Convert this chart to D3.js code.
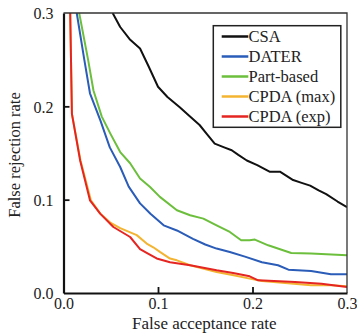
<!DOCTYPE html>
<html>
<head>
<meta charset="utf-8">
<script src="https://cdn.jsdelivr.net/npm/d3@7"></script>
<style>
  body { margin: 0; background: #fff; }
</style>
</head>
<body>
<div class="chart"></div>
<script>
// series names + colours
const names = ["CSA", "DATER", "Part-based", "CPDA (max)", "CPDA (exp)"];
const colors = ["#111111", "#2a5cb8", "#6cbf3c", "#f3b431", "#e52521"];

// false acceptance rate (x) / false rejection rate (y)
const csaX = [0.052,0.06,0.07,0.081,0.09,0.1,0.11,0.123,0.133,0.144,0.152,0.16,0.17,0.178,0.185,0.194,0.205,0.218,0.229,0.243,0.252,0.261,0.27,0.278,0.29,0.3];
const csaY = [0.3,0.285,0.272,0.262,0.243,0.221,0.21,0.199,0.19,0.18,0.17,0.16,0.156,0.153,0.148,0.142,0.137,0.13,0.13,0.121,0.118,0.115,0.11,0.106,0.098,0.092];

const daterX = [0.014,0.022,0.028,0.039,0.049,0.06,0.069,0.081,0.092,0.106,0.12,0.137,0.15,0.162,0.176,0.192,0.21,0.227,0.238,0.262,0.283,0.3];
const daterY = [0.3,0.25,0.214,0.185,0.156,0.135,0.114,0.096,0.085,0.0725,0.067,0.058,0.052,0.0476,0.044,0.039,0.033,0.0297,0.025,0.0236,0.02,0.02];

const partX = [0.0166,0.026,0.0317,0.0405,0.05,0.06,0.0705,0.081,0.0916,0.102,0.12,0.134,0.148,0.162,0.176,0.188,0.197,0.2025,0.2166,0.241,0.262,0.3];
const partY = [0.3,0.25,0.217,0.189,0.17,0.151,0.139,0.1226,0.1136,0.103,0.0886,0.0833,0.0797,0.0725,0.0654,0.0565,0.0565,0.0572,0.0511,0.0429,0.0422,0.0404];

const maxX = [0.0071,0.0089,0.018,0.029,0.039,0.05,0.06,0.0775,0.088,0.095,0.102,0.1127,0.12,0.134,0.162,0.18,0.197,0.21,0.262,0.283,0.3];
const maxY = [0.3,0.192,0.142,0.0993,0.085,0.075,0.0695,0.062,0.053,0.049,0.044,0.0369,0.035,0.0297,0.0225,0.019,0.0154,0.0129,0.0082,0.0082,0.0072];

const expX = [0.0071,0.0089,0.0176,0.028,0.0388,0.0528,0.0705,0.081,0.088,0.0986,0.1127,0.134,0.162,0.1795,0.197,0.206,0.245,0.273,0.3];
const expY = [0.3,0.192,0.142,0.0993,0.085,0.0707,0.06,0.047,0.043,0.037,0.033,0.0297,0.0243,0.0214,0.0179,0.0136,0.0118,0.01,0.0064];

const xTicks = [0.0, 0.1, 0.2, 0.3];
const yTicks = [0.0, 0.1, 0.2, 0.3];

const seriesX = [csaX, daterX, partX, maxX, expX];
const seriesY = [csaY, daterY, partY, maxY, expY];

const serif = "'Liberation Serif', 'Times New Roman', serif";
const dim = { width: 357, height: 333, left: 63.5, right: 347, top: 13, bottom: 293 };

const svg = d3.select(".chart").append("svg")
  .attr("width", dim.width)
  .attr("height", dim.height);

const x = d3.scaleLinear().domain([0, 0.3]).range([dim.left, dim.right]);
const y = d3.scaleLinear().domain([0, 0.3]).range([dim.bottom, dim.top]);

svg.append("clipPath").attr("id", "plot")
  .append("rect")
  .attr("x", dim.left).attr("y", dim.top)
  .attr("width", dim.right - dim.left).attr("height", dim.bottom - dim.top);

// curves
const line = d3.line().x(d => x(d[0])).y(d => y(d[1]));
const curves = svg.append("g").attr("clip-path", "url(#plot)");
seriesX.forEach((xs, i) => {
  const pts = xs.map((v, j) => [v, seriesY[i][j]]);
  curves.append("path")
    .attr("d", line(pts))
    .attr("fill", "none")
    .attr("stroke", colors[i])
    .attr("stroke-width", 2)
    .attr("stroke-linejoin", "round");
});

// frame: thin top/right, heavier left/bottom
svg.append("path")
  .attr("d", `M${dim.left},${dim.top}H${dim.right}V${dim.bottom}`)
  .attr("fill", "none").attr("stroke", "#333").attr("stroke-width", 1.3);

const xAxis = svg.append("g").attr("transform", `translate(0,${dim.bottom})`)
  .call(d3.axisBottom(x).tickValues(xTicks).tickSizeInner(-6).tickSizeOuter(0).tickPadding(5).tickFormat(d3.format(".1f")));
const yAxis = svg.append("g").attr("transform", `translate(${dim.left},0)`)
  .call(d3.axisLeft(y).tickValues(yTicks).tickSizeInner(-6).tickSizeOuter(0).tickPadding(10).tickFormat(d3.format(".1f")));

[xAxis, yAxis].forEach(g => {
  g.select(".domain").attr("stroke", "#111").attr("stroke-width", 2.2);
  g.selectAll(".tick line").attr("stroke", "#111").attr("stroke-width", 1.8);
  g.selectAll(".tick text")
    .attr("fill", "#222")
    .style("font-family", serif)
    .style("font-size", "16px");
});
// the 0.0 / 0.3 ticks sit on the frame, hide their marks
xAxis.selectAll(".tick line").filter(d => d === 0 || d === 0.3).remove();
yAxis.selectAll(".tick line").filter(d => d === 0 || d === 0.3).remove();
yAxis.selectAll(".tick text").attr("dy", "0.36em");

// axis titles
svg.append("text")
  .attr("x", (dim.left + dim.right) / 2 - 1)
  .attr("y", 329)
  .attr("text-anchor", "middle")
  .attr("fill", "#222")
  .style("font-family", serif)
  .style("font-size", "17px")
  .text("False acceptance rate");

svg.append("text")
  .attr("transform", `translate(20,${(dim.top + dim.bottom) / 2 + 2}) rotate(-90)`)
  .attr("text-anchor", "middle")
  .attr("fill", "#222")
  .style("font-family", serif)
  .style("font-size", "16.5px")
  .text("False rejection rate");

// legend
const legend = svg.append("g");
legend.append("rect")
  .attr("x", 213.3).attr("y", 25.7)
  .attr("width", 127.5).attr("height", 101.6)
  .attr("fill", "#fff").attr("stroke", "#222").attr("stroke-width", 1.5);

names.forEach((name, i) => {
  const ly = 36.5 + i * 20;
  legend.append("line")
    .attr("x1", 221.7).attr("x2", 248.3)
    .attr("y1", ly).attr("y2", ly)
    .attr("stroke", colors[i]).attr("stroke-width", 2.5);
  legend.append("text")
    .attr("x", 248.5).attr("y", ly)
    .attr("dy", "0.35em")
    .attr("fill", "#222")
    .style("font-family", serif)
    .style("font-size", "16.5px")
    .text(name);
});
</script>
</body>
</html>
